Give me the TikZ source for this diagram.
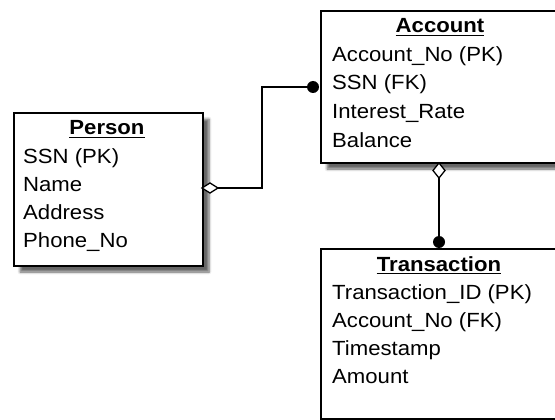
\documentclass[tikz,border=0pt]{standalone}
\usepackage{fontspec}
\setmainfont{Liberation Sans}
\usetikzlibrary{shadows.blur}
\newcommand\wtext[1]{\scalebox{1.08}[1]{#1}}
\tikzset{
  entity/.style={draw=black, line width=2pt, fill=white, anchor=north west,
    inner sep=0pt,
    blur shadow={shadow xshift=6pt, shadow yshift=-6pt, shadow blur radius=2.5pt,
      shadow blur steps=6, shadow opacity=60}},
  ttl/.style={anchor=base, inner sep=0pt, font=\fontsize{20.5}{24}\selectfont\bfseries},
  attr/.style={anchor=base west, inner sep=0pt, font=\fontsize{20.5}{24}\selectfont},
  uline/.style={line width=1.6pt},
  link/.style={line width=1.8pt},
  agg/.style={draw=black, line width=1.3pt, fill=white},
  dot/.style={circle, fill=black, inner sep=0pt, minimum size=12pt}
}
\begin{document}
\begin{tikzpicture}[x=1pt, y=-1pt]
\useasboundingbox (0,0) rectangle (555,420);
\clip (0,0) rectangle (555,420);

% entity boxes
\node[entity, minimum width=189pt, minimum height=153pt] (person) at (13,112) {};
\node[entity, minimum width=240pt, minimum height=152pt] (account) at (320,10) {};
\node[entity, minimum width=240pt, minimum height=170pt] (trans) at (320,248) {};

% Person
\node[ttl] (pt) at (107,135) {\wtext{Person}};
\draw[uline] ([yshift=-2.5pt]pt.base west) -- ([yshift=-2.5pt]pt.base east);
\node[attr] (p1) at (23,164) {\wtext{SSN (PK)}};
\node[attr] (p2) at (23,191) {\wtext{Name}};
\node[attr] (p3) at (23,219) {\wtext{Address}};
\node[attr] (p4) at (23,247) {\wtext{Phone\_No}};

% Account
\node[ttl] (at) at (440,33) {\wtext{Account}};
\draw[uline] ([yshift=-2.5pt]at.base west) -- ([yshift=-2.5pt]at.base east);
\node[attr] (a1) at (332,62) {\wtext{Account\_No (PK)}};
\node[attr] (a2) at (332,90) {\wtext{SSN (FK)}};
\node[attr] (a3) at (332,118) {\wtext{Interest\_Rate}};
\node[attr] (a4) at (332,147) {\wtext{Balance}};

% Transaction
\node[ttl] (tt) at (439,271) {\wtext{Transaction}};
\draw[uline] ([yshift=-2.5pt]tt.base west) -- ([yshift=-2.5pt]tt.base east);
\node[attr] (t1) at (332,299) {\wtext{Transaction\_ID (PK)}};
\node[attr] (t2) at (332,327) {\wtext{Account\_No (FK)}};
\node[attr] (t3) at (332,355) {\wtext{Timestamp}};
\node[attr] (t4) at (332,383) {\wtext{Amount}};

% Person -- Account relationship
\coordinate (d1w) at (202,188);
\coordinate (d1e) at (218,188);
\coordinate (c1) at (313,87);
\coordinate (bend1) at (262,188);
\coordinate (bend2) at (262,87);
\draw[link] (d1e) -- (bend1) -- (bend2) -- (c1);
\draw[agg] (d1w) -- (210,183) -- (d1e) -- (210,193) -- cycle;
\node[dot] (dot1) at (c1) {};

% Account -- Transaction relationship
\coordinate (d2n) at (439,163);
\coordinate (d2s) at (439,178);
\coordinate (c2) at (439,242);
\draw[link] (d2s) -- (c2);
\draw[agg] (d2n) -- (445,170.5) -- (d2s) -- (433,170.5) -- cycle;
\node[dot] (dot2) at (c2) {};
\end{tikzpicture}
\end{document}
